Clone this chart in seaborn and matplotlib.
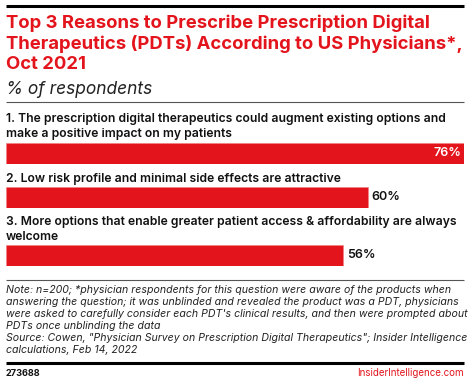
import matplotlib
matplotlib.use("Agg")
import matplotlib.pyplot as plt
import seaborn as sns
from matplotlib.lines import Line2D

# ---- data ----
categories = [
    "1. The prescription digital therapeutics could augment existing options and\nmake a positive impact on my patients",
    "2. Low risk profile and minimal side effects are attractive",
    "3. More options that enable greater patient access & affordability are always\nwelcome",
]
values = [76, 60, 56]
value_labels = ["76%", "60%", "56%"]

title = "Top 3 Reasons to Prescribe Prescription Digital\nTherapeutics (PDTs) According to US Physicians*,\nOct 2021"
subtitle = "% of respondents"
note = ("Note: n=200; *physician respondents for this question were aware of the products when\n"
        "answering the question; it was unblinded and revealed the product was a PDT, physicians\n"
        "were asked to carefully consider each PDT's clinical results, and then were prompted about\n"
        "PDTs once unblinding the data\n"
        "Source: Cowen, \"Physician Survey on Prescription Digital Therapeutics\"; Insider Intelligence\n"
        "calculations, Feb 14, 2022")
chart_id = "273688"
brand = "InsiderIntelligence.com"

RED = "#E3141C"
sns.set_theme(style="white")
plt.rcParams['font.family'] = ['Inter', 'DejaVu Sans']

W, H = 470, 383
fig = plt.figure(figsize=(W / 100, H / 100), dpi=100)

def fx(x):
    return x / W

def fy(y):
    return 1 - y / H

def hline(y, lw, color, x0=6, x1=464):
    fig.add_artist(Line2D([fx(x0), fx(x1)], [fy(y), fy(y)], lw=lw, color=color,
                          transform=fig.transFigure, solid_capstyle="butt"))

# rules
hline(6, 2.2, "black")
hline(102, 0.8, "#555555")
hline(280, 0.8, "#555555")
hline(363, 2.2, "black")

# title
fig.text(fx(6), fy(15), title, color=RED, fontsize=13.3, fontweight="bold",
         va="top", ha="left", linespacing=1.2)
fig.text(fx(6), fy(81), subtitle, color="#222222", fontsize=12.5, fontstyle="italic",
         va="top", ha="left")

# bars
label_tops = [113, 173, 216]
bar_spans = [(143, 164), (187, 208), (245, 266)]
for i, (cat, val, vl) in enumerate(zip(categories, values, value_labels)):
    fig.text(fx(6), fy(label_tops[i]), cat, color="#111111", fontsize=8.75,
             fontweight="semibold", va="top", ha="left", linespacing=1.28)
    y0, y1 = bar_spans[i]
    ax = fig.add_axes([fx(6), fy(y1), fx(464) - fx(6), (y1 - y0) / H])
    sns.barplot(x=[val], y=[cat], orient="h", color=RED, width=1.0, ax=ax,
                saturation=1, edgecolor="#f08080", linewidth=0.4)
    ax.set_xlim(0, 76)
    ax.set_ylim(0.5, -0.5)
    ax.axis("off")
    if i == 0:
        ax.text(val - 0.4, 0, vl, color="white", fontsize=9, fontweight="semibold",
                va="center", ha="right")
    else:
        ax.text(val + 0.6, 0, vl, color="#111111", fontsize=9, fontweight="semibold",
                va="center", ha="left")

# note
fig.text(fx(6), fy(285), note, color="#222222", fontsize=7.6, fontstyle="italic",
         va="top", ha="left", linespacing=1.24)

# footer
fig.text(fx(6), fy(376), chart_id, color="#111111", fontsize=6.6, fontweight="bold",
         va="baseline", ha="left")
fig.text(fx(464), fy(376), brand, color=RED, fontsize=7, va="baseline", ha="right")

fig.savefig("out.png", dpi=100, facecolor="white")
